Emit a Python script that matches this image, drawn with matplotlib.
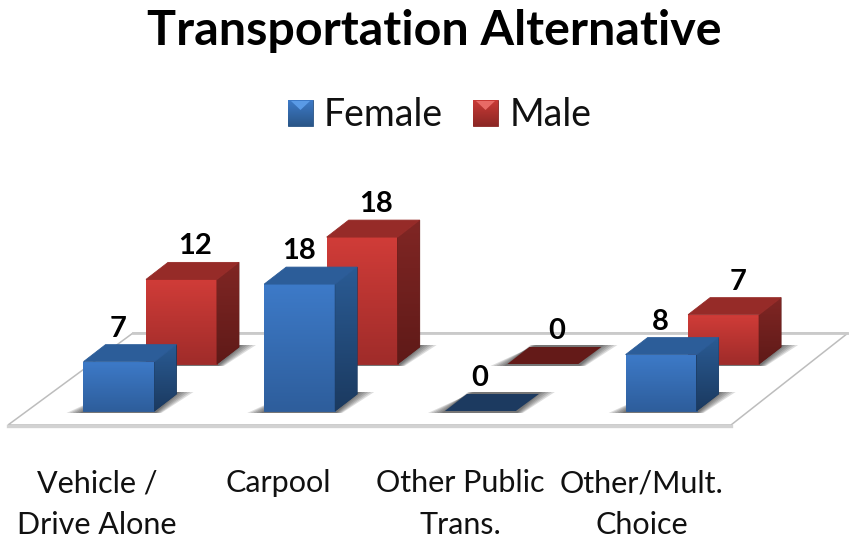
import numpy as np
import matplotlib
matplotlib.use('Agg')
import matplotlib.pyplot as plt
from matplotlib.patches import Polygon
from matplotlib.colors import LinearSegmentedColormap

categories = ['Vehicle /\nDrive Alone', 'Carpool', 'Other Public\nTrans.', 'Other/Mult.\nChoice']
female = [7, 18, 0, 8]
male = [12, 18, 0, 7]

plt.rcParams['font.family'] = ['Lato', 'DejaVu Sans']

# the axes run in picture pixels, the fake 3d scale below maps values onto them
fig = plt.figure(figsize=(8.49, 5.39), dpi=100)
ax = fig.add_axes([0, 0, 1, 1])
ax.set_xlim(0, 849)
ax.set_ylim(539, 0)
ax.axis('off')

UNIT = 7.05
SPACING = 180.7
BAR_W = 71
DX, DY = 22, -17


def gradient_poly(pts, c_top, c_bottom, zorder):
    pts = np.array(pts)
    # solid backing so no light seam shows along the clipped edges
    ax.add_patch(Polygon(pts, closed=True, facecolor=c_bottom, edgecolor=c_bottom,
                         linewidth=0.6, zorder=zorder))
    poly = Polygon(pts, closed=True, facecolor='none', edgecolor='none', zorder=zorder)
    ax.add_patch(poly)
    cmap = LinearSegmentedColormap.from_list('g', [c_top, c_bottom])
    extent = (pts[:, 0].min(), pts[:, 0].max(), pts[:, 1].max(), pts[:, 1].min())
    im = ax.imshow(np.linspace(0, 1, 64).reshape(-1, 1), cmap=cmap, extent=extent,
                   aspect='auto', zorder=zorder, interpolation='bilinear')
    im.set_clip_path(poly)


def draw_bar(x0, base, value, colors, zorder):
    x1 = x0 + BAR_W
    top = base - value * UNIT

    # soft shadow on the floor
    for grow in [17, 14, 11, 8, 5, 3]:
        shadow = [(x0 - grow, base + 2), (x1 + grow * 0.4, base + 2),
                  (x1 + DX + grow, base + DY - 2), (x0 + DX + grow * 0.4, base + DY - 2)]
        ax.add_patch(Polygon(shadow, closed=True, facecolor='#303030', alpha=0.16,
                             edgecolor='none', zorder=zorder))

    if value == 0:
        flat = [(x0, base), (x1, base), (x1 + DX + 1, base + DY), (x0 + DX, base + DY)]
        ax.add_patch(Polygon(flat, closed=True, facecolor=colors['flat'], edgecolor='none', zorder=zorder + 1))
        return

    gradient_poly([(x0, top), (x1, top), (x1, base), (x0, base)],
                  colors['front_top'], colors['front_bottom'], zorder + 1)
    gradient_poly([(x1, top), (x1 + DX, top + DY), (x1 + DX, base + DY), (x1, base)],
                  colors['side_top'], colors['side_bottom'], zorder + 1)
    cap = [(x0, top), (x1, top), (x1 + DX, top + DY), (x0 + DX, top + DY)]
    ax.add_patch(Polygon(cap, closed=True, facecolor=colors['cap'], edgecolor=colors['cap'],
                         linewidth=0.6, zorder=zorder + 1.5))


blue = {'front_top': '#3d7ac8', 'front_bottom': '#2e5e9c', 'side_top': '#2a5b94',
        'side_bottom': '#1b3a60', 'cap': '#2c5d99', 'flat': '#1c3a60'}
red = {'front_top': '#d03c38', 'front_bottom': '#a02c2a', 'side_top': '#802624',
       'side_bottom': '#5f1a18', 'cap': '#962b28', 'flat': '#641a18'}

# floor
floor = [(8, 425), (731, 425), (848, 333), (133, 333)]
ax.add_patch(Polygon(floor, closed=True, facecolor='white', edgecolor='#bdbdbd', linewidth=1.1, zorder=1))
ax.plot([8, 731], [425.5, 425.5], color='#d2d2d2', linewidth=2.4, zorder=1.5)
ax.plot([133, 848], [333, 333], color='#cacaca', linewidth=2.0, zorder=1.5)

# male row sits behind the female row
for i, v in enumerate(male):
    x0 = 146 + i * SPACING
    draw_bar(x0, 364, v, red, 3)
    ax.text(x0 + BAR_W / 2 + 14, 364 + DY - v * UNIT - 16, str(v), ha='center', va='center',
            fontsize=21, fontweight='bold', color='black', zorder=9)

for i, v in enumerate(female):
    x0 = 83.5 + i * SPACING
    draw_bar(x0, 411, v, blue, 6)
    ax.text(x0 + BAR_W / 2 - 0.5, 411 + DY - v * UNIT - 16, str(v), ha='center', va='center',
            fontsize=21, fontweight='bold', color='black', zorder=9)

# category labels
for i, name in enumerate(categories):
    ax.text(97 + i * 181.5, 469, name, ha='center', va='top', fontsize=22,
            color='#111111', linespacing=1.62)

ax.text(434, 31, 'Transportation Alternative', ha='center', va='center',
        fontsize=34.8, fontweight='bold', color='black')

# legend
for x, label, tx, c1, c2, c3 in [(288, 'Female', 324, '#5a9ae6', '#3d7ac8', '#2a5688'),
                                 (473, 'Male', 510, '#e86a66', '#c93a36', '#8c2725')]:
    gradient_poly([(x, 100), (x + 25, 100), (x + 25, 126), (x, 126)], c2, c3, 5)
    ax.add_patch(Polygon([(x + 3, 101), (x + 22, 101), (x + 12.5, 110)], closed=True,
                         facecolor=c1, edgecolor='none', zorder=6))
    ax.text(tx, 115, label, ha='left', va='center', fontsize=27, color='#111111')

ax.set_xlim(0, 849)
ax.set_ylim(539, 0)
fig.savefig('out.png', dpi=100)
